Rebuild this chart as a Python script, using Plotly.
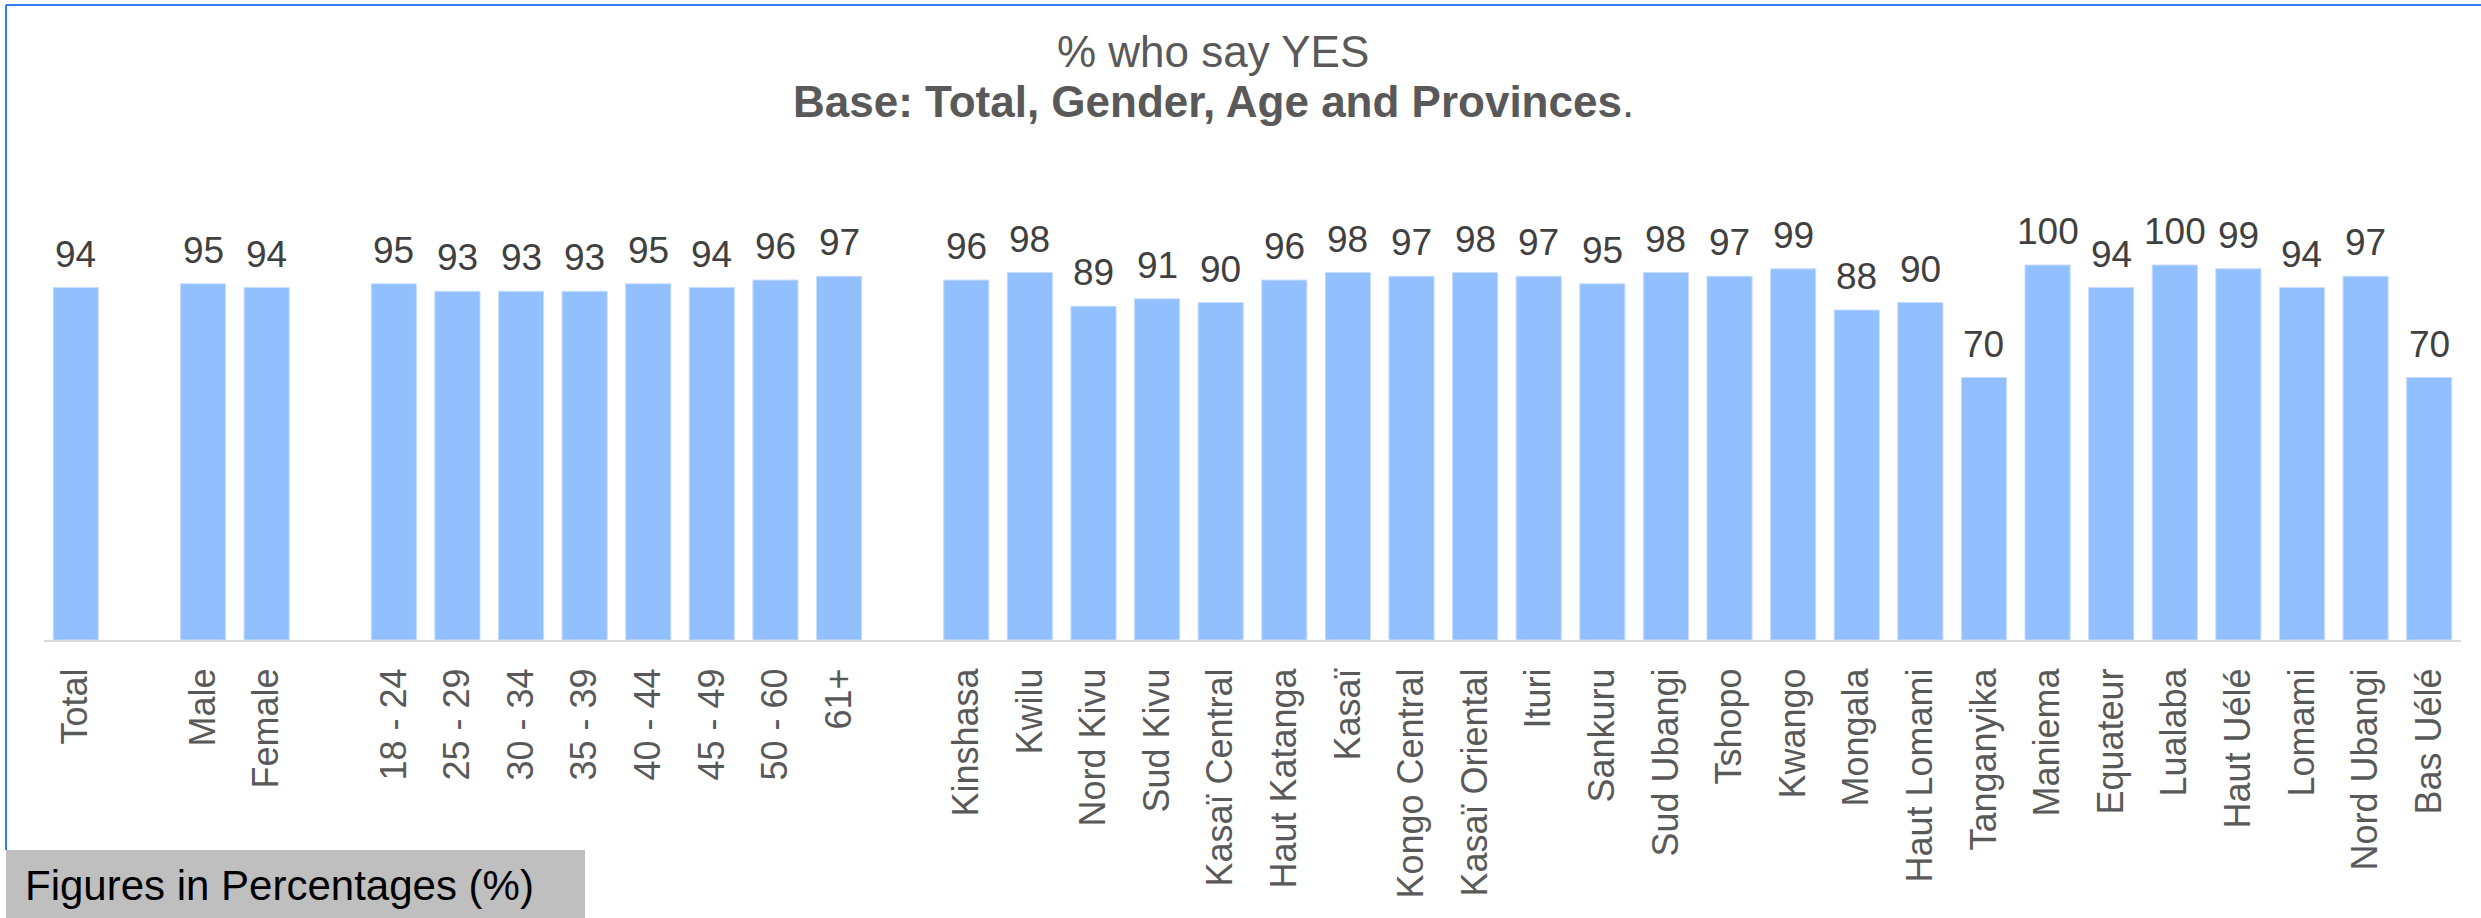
"""
Bar chart: % who say YES by total, gender, age and province
"""

import plotly.graph_objects as go

# Gap slots are blank categories so the groups stay apart
categories = ["Total", " ",
              "Male", "Female", "  ",
              "18 - 24", "25 - 29", "30 - 34", "35 - 39", "40 - 44", "45 - 49", "50 - 60", "61+", "   ",
              "Kinshasa", "Kwilu", "Nord Kivu", "Sud Kivu", "Kasaï Central", "Haut Katanga",
              "Kasaï", "Kongo Central", "Kasaï Oriental", "Ituri", "Sankuru", "Sud Ubangi",
              "Tshopo", "Kwango", "Mongala", "Haut Lomami", "Tanganyika", "Maniema",
              "Equateur", "Lualaba", "Haut Uélé", "Lomami", "Nord Ubangi", "Bas Uélé"]

yes_values = [94, None,
              95, 94, None,
              95, 93, 93, 93, 95, 94, 96, 97, None,
              96, 98, 89, 91, 90, 96,
              98, 97, 98, 97, 95, 98,
              97, 99, 88, 90, 70, 100,
              94, 100, 99, 94, 97, 70]

title_line1 = "% who say YES"
title_line2 = "<b>Base: Total, Gender, Age and Provinces</b>."
footer_text = "Figures in Percentages (%)"

W, H = 2481, 918
ML, MR, MT, MB = 44, 20, 228, 278
FONT = "Liberation Sans, Arial, sans-serif"


def px_x(px):
    # pixel column -> paper x
    return (px - ML) / (W - ML - MR)


def px_y(py):
    # pixel row -> paper y
    return (H - MB - py) / (H - MT - MB)


fig = go.Figure(go.Bar(
    x=categories,
    y=yes_values,
    marker=dict(color="#92c0fe", line=dict(color="#c8ddfb", width=1)),
    hoverinfo="x+y",
))

# value labels above each bar
annotations = []
for cat, val in zip(categories, yes_values):
    if val is None:
        continue
    annotations.append(dict(
        x=cat, y=val, xref="x", yref="y", text=str(val), showarrow=False,
        yanchor="bottom", xanchor="center", yshift=11,
        font=dict(family=FONT, size=37, color="#404040"),
    ))

# title, two lines
annotations.append(dict(
    x=px_x(1213), y=px_y(78), xref="paper", yref="paper", text=title_line1,
    showarrow=False, xanchor="center", yanchor="bottom",
    font=dict(family=FONT, size=44, color="#595959"),
))
annotations.append(dict(
    x=px_x(1213), y=px_y(128), xref="paper", yref="paper", text=title_line2,
    showarrow=False, xanchor="center", yanchor="bottom",
    font=dict(family=FONT, size=44, color="#595959"),
))

# footer note
annotations.append(dict(
    x=px_x(23), y=px_y(911), xref="paper", yref="paper", text=footer_text,
    showarrow=False, xanchor="left", yanchor="bottom",
    font=dict(family=FONT, size=42, color="#000000"),
))

shapes = [
    # grey footer box
    dict(type="rect", xref="paper", yref="paper",
         x0=px_x(6), x1=px_x(585), y0=px_y(850), y1=px_y(H + 2),
         fillcolor="#bfbfbf", line=dict(width=0), layer="below"),
    # blue frame, top and left
    dict(type="line", xref="paper", yref="paper",
         x0=px_x(6), x1=px_x(W + 2), y0=px_y(5), y1=px_y(5),
         line=dict(color="#2f7cf6", width=2)),
    dict(type="line", xref="paper", yref="paper",
         x0=px_x(6), x1=px_x(6), y0=px_y(5), y1=px_y(850),
         line=dict(color="#2f7cf6", width=2)),
]

fig.update_layout(
    width=W,
    height=H,
    margin=dict(l=ML, r=MR, t=MT, b=MB, pad=0),
    paper_bgcolor="white",
    plot_bgcolor="white",
    bargap=0.29,
    showlegend=False,
    font=dict(family=FONT, color="#595959"),
    annotations=annotations,
    shapes=shapes,
    xaxis=dict(
        type="category",
        categoryorder="array",
        categoryarray=categories,
        tickangle=-90,
        tickfont=dict(family=FONT, size=36, color="#595959"),
        ticks="outside",
        ticklen=12,
        tickcolor="rgba(0,0,0,0)",
        showline=True,
        linecolor="#d9d9d9",
        linewidth=2,
        showgrid=False,
        zeroline=False,
        automargin=False,
        fixedrange=True,
    ),
    yaxis=dict(
        range=[0, 109.87],
        visible=False,
        showgrid=False,
        zeroline=False,
        fixedrange=True,
    ),
)

# drop the default page margin so the figure sits at the window's corner
fig.write_html("out.html",
               config={"displayModeBar": False},
               post_script="document.body.style.margin='0';document.body.style.overflow='hidden';")
